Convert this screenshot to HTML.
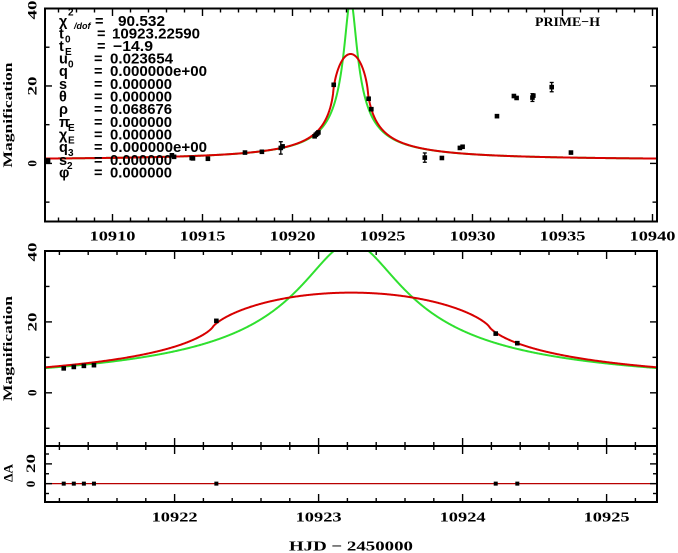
<!DOCTYPE html>
<html>
<head>
<meta charset="utf-8">
<style>
  html,body{margin:0;padding:0;background:#fff;}
  svg{display:block;}
  .ax{font-family:"Liberation Serif","DejaVu Serif",serif;font-weight:bold;fill:#000;}
  .lg{font-family:"Liberation Sans","DejaVu Sans",sans-serif;font-weight:bold;fill:#000;}
</style>
</head>
<body>
<svg id="s" xmlns="http://www.w3.org/2000/svg" width="678" height="553" viewBox="0 0 678 553">
  <rect x="0" y="0" width="678" height="553" fill="#fff"/>
  <defs>
    <clipPath id="c1"><rect x="45" y="8.5" width="612" height="213"/></clipPath>
    <clipPath id="c2"><rect x="45" y="251" width="612" height="195"/></clipPath>
    <clipPath id="c3"><rect x="45" y="446" width="612" height="56"/></clipPath>
  </defs>
  <g id="curves"></g>
  <g id="ticks" stroke="#000" stroke-width="1.4"></g>
  <g id="pts"></g>
  <!-- frames -->
  <g fill="none" stroke="#000" stroke-width="2">
    <rect x="45" y="8.5" width="612" height="213"/>
    <rect x="45" y="251" width="612" height="195"/>
    <rect x="45" y="446" width="612" height="56"/>
  </g>

  <!-- top x tick labels -->
  <g class="ax" font-size="14" text-anchor="middle">
    <text x="112.5" y="240.5" textLength="46" lengthAdjust="spacingAndGlyphs">10910</text>
    <text x="202.5" y="240.5" textLength="46" lengthAdjust="spacingAndGlyphs">10915</text>
    <text x="292.5" y="240.5" textLength="46" lengthAdjust="spacingAndGlyphs">10920</text>
    <text x="382.5" y="240.5" textLength="46" lengthAdjust="spacingAndGlyphs">10925</text>
    <text x="472.5" y="240.5" textLength="46" lengthAdjust="spacingAndGlyphs">10930</text>
    <text x="562.5" y="240.5" textLength="46" lengthAdjust="spacingAndGlyphs">10935</text>
    <text x="652.5" y="240.5" textLength="46" lengthAdjust="spacingAndGlyphs">10940</text>
    <!-- bottom x tick labels -->
    <text x="174.6" y="521.5" textLength="46" lengthAdjust="spacingAndGlyphs">10922</text>
    <text x="318.6" y="521.5" textLength="46" lengthAdjust="spacingAndGlyphs">10923</text>
    <text x="462.6" y="521.5" textLength="46" lengthAdjust="spacingAndGlyphs">10924</text>
    <text x="606.6" y="521.5" textLength="46" lengthAdjust="spacingAndGlyphs">10925</text>
    <text x="351" y="550.5" textLength="124" lengthAdjust="spacingAndGlyphs">HJD − 2450000</text>
  </g>

  <!-- rotated y labels -->
  <g class="ax" font-size="13" text-anchor="middle">
    <text transform="translate(36.5,10) rotate(-90)" textLength="19" lengthAdjust="spacingAndGlyphs">40</text>
    <text transform="translate(36.5,86) rotate(-90)" textLength="19" lengthAdjust="spacingAndGlyphs">20</text>
    <text transform="translate(36.5,163.4) rotate(-90)">0</text>
    <text transform="translate(12,115) rotate(-90)" textLength="105" lengthAdjust="spacingAndGlyphs">Magnification</text>

    <text transform="translate(36.5,252) rotate(-90)" textLength="19" lengthAdjust="spacingAndGlyphs">40</text>
    <text transform="translate(36.5,322) rotate(-90)" textLength="19" lengthAdjust="spacingAndGlyphs">20</text>
    <text transform="translate(36.5,392.8) rotate(-90)">0</text>
    <text transform="translate(12,348.5) rotate(-90)" textLength="105" lengthAdjust="spacingAndGlyphs">Magnification</text>

    <text transform="translate(35,484) rotate(-90)">0</text>
    <text transform="translate(35,463.5) rotate(-90)" textLength="19" lengthAdjust="spacingAndGlyphs">20</text>
    <text transform="translate(12.5,473) rotate(-90)" textLength="18" lengthAdjust="spacingAndGlyphs">ΔA</text>
  </g>

  <!-- PRIME-H -->
  <text class="ax" x="535" y="26" font-size="13" textLength="65" lengthAdjust="spacingAndGlyphs">PRIME−H</text>

  <!-- legend -->
  <g class="lg" font-size="14.5">
    <text x="59" y="26">χ</text><text x="68" y="15.5" font-size="10">2</text><text x="74" y="29" font-size="9" font-style="italic">/dof</text><text x="95" y="26">=</text><text x="118" y="26" textLength="47" lengthAdjust="spacingAndGlyphs">90.532</text>

    <text x="59" y="38.5">t</text><text x="65" y="42.5" font-size="10">0</text><text x="97" y="38.5">=</text><text x="112" y="38.5" textLength="88" lengthAdjust="spacingAndGlyphs">10923.22590</text>

    <text x="59" y="51">t</text><text x="65" y="55" font-size="10">E</text><text x="97" y="51">=</text><text x="113" y="51" textLength="40" lengthAdjust="spacingAndGlyphs">−14.9</text>

    <text x="59" y="63.5">u</text><text x="68" y="67.5" font-size="10">0</text><text x="94" y="63.5">=</text><text x="110" y="63.5" textLength="63" lengthAdjust="spacingAndGlyphs">0.023654</text>

    <text x="59" y="76">q</text><text x="94" y="76">=</text><text x="110" y="76" textLength="97" lengthAdjust="spacingAndGlyphs">0.000000e+00</text>

    <text x="59" y="89">s</text><text x="94" y="89">=</text><text x="110" y="89" textLength="62" lengthAdjust="spacingAndGlyphs">0.000000</text>

    <text x="59" y="101.5">θ</text><text x="94" y="101.5">=</text><text x="110" y="101.5" textLength="62" lengthAdjust="spacingAndGlyphs">0.000000</text>

    <text x="59" y="114">ρ</text><text x="94" y="114">=</text><text x="110" y="114" textLength="62" lengthAdjust="spacingAndGlyphs">0.068676</text>

    <text x="59" y="127">π</text><text x="68" y="131" font-size="10">E</text><text x="94" y="127">=</text><text x="110" y="127" textLength="62" lengthAdjust="spacingAndGlyphs">0.000000</text>

    <text x="59" y="139.5">χ</text><text x="68" y="143.5" font-size="10">E</text><text x="94" y="139.5">=</text><text x="110" y="139.5" textLength="62" lengthAdjust="spacingAndGlyphs">0.000000</text>

    <text x="59" y="152">q</text><text x="68" y="156" font-size="10">3</text><text x="94" y="152">=</text><text x="110" y="152" textLength="97" lengthAdjust="spacingAndGlyphs">0.000000e+00</text>

    <text x="59" y="165">s</text><text x="67" y="169" font-size="10">2</text><text x="94" y="165">=</text><text x="110" y="165" textLength="62" lengthAdjust="spacingAndGlyphs">0.000000</text>

    <text x="59" y="177.5">φ</text><text x="94" y="177.5">=</text><text x="110" y="177.5" textLength="62" lengthAdjust="spacingAndGlyphs">0.000000</text>
  </g>
</svg>
<script>
(function(){
  var NS="http://www.w3.org/2000/svg";
  function el(tag,attrs,parent){var e=document.createElementNS(NS,tag);for(var k in attrs)e.setAttribute(k,attrs[k]);parent.appendChild(e);return e;}
  var P1={x0:45,x1:657,y0:8.5,y1:221.5,t0:10906.25,t1:10940.25,a0:-15,a1:40};
  var P2={x0:45,x1:657,y0:251,y1:446,t0:10921.1,t1:10925.35,a0:-15,a1:40};
  var P3={x0:45,x1:657,y0:446,y1:502,t0:10921.1,t1:10925.35,a0:-18.6,a1:38.1};
  function X(P,t){return P.x0+(t-P.t0)/(P.t1-P.t0)*(P.x1-P.x0);}
  function Y(P,a){return P.y0+(P.a1-a)/(P.a1-P.a0)*(P.y1-P.y0);}

  var T0=10923.2259, TE=14.9, U0=0.023654, RHO=0.068676;
  function Aps(u){return (u*u+2)/(u*Math.sqrt(u*u+4));}
  function Afs(u,rho){
    var N=500,s=0,r0=Math.max(0,u-rho),r1=u+rho,h=(r1-r0)/N;
    for(var i=0;i<N;i++){
      var r=r0+(i+0.5)*h,th;
      var c=(r*r+u*u-rho*rho)/(2*r*u);
      if(c<=-1)th=Math.PI;else if(c>=1)th=0;else th=Math.acos(c);
      s+=(r*r+2)/Math.sqrt(r*r+4)*2*th*h;
    }
    return s/(Math.PI*rho*rho);
  }
  function uOf(t){var tau=(t-T0)/TE;return Math.sqrt(U0*U0+tau*tau);}

  var curves=document.getElementById('curves');
  function drawCurve(P,clip,fn,color,n){
    var d="";
    for(var i=0;i<=n;i++){
      var t=P.t0+(P.t1-P.t0)*i/n;
      var a=fn(uOf(t));
      var y=Y(P,a); if(y<P.y0-30)y=P.y0-30;
      d+=(i?"L":"M")+X(P,t).toFixed(2)+","+y.toFixed(2);
    }
    el('path',{d:d,fill:"none",stroke:color,"stroke-width":"2","clip-path":"url(#"+clip+")","stroke-linejoin":"round"},curves);
  }
  var GREEN="#2fe02f", RED="#d80000";
  drawCurve(P1,"c1",Aps,GREEN,3000);
  drawCurve(P1,"c1",function(u){return Afs(u,RHO);},RED,1600);
  drawCurve(P2,"c2",Aps,GREEN,1200);
  drawCurve(P2,"c2",function(u){return Afs(u,RHO);},RED,800);
  el('line',{x1:45,x2:657,y1:Y(P3,0),y2:Y(P3,0),stroke:"#b80000","stroke-width":"1.2"},curves);

  var tk=document.getElementById('ticks');
  function line(x1,y1,x2,y2){el('line',{x1:x1,y1:y1,x2:x2,y2:y2},tk);}
  function xticks(P,step,majorEvery,lmin,lmaj){
    var start=Math.ceil(P.t0/step-1e-9);
    for(var k=start;k*step<=P.t1+1e-9;k++){
      var t=k*step,x=X(P,t);
      var maj=Math.abs(Math.round(t/majorEvery)*majorEvery-t)<1e-6;
      var L=maj?lmaj:lmin;
      line(x,P.y1,x,P.y1-L);
      line(x,P.y0,x,P.y0+L);
    }
  }
  function yticks(P,step,majorEvery,lmin,lmaj){
    var start=Math.ceil(P.a0/step-1e-9);
    for(var k=start;k*step<=P.a1+1e-9;k++){
      var a=k*step,y=Y(P,a);
      var maj=Math.abs(Math.round(a/majorEvery)*majorEvery-a)<1e-6;
      var L=maj?lmaj:lmin;
      line(P.x0,y,P.x0+L,y);
      line(P.x1,y,P.x1-L,y);
    }
  }
  xticks(P1,1,5,4,7.5); yticks(P1,10,20,4.5,7);
  xticks(P2,0.2,1,4,8); yticks(P2,10,20,4.5,7);
  xticks(P3,0.2,1,4,8); yticks(P3,10,20,4,7);

  var pts=document.getElementById('pts');
  function point(P,t,a,e){
    var x=X(P,t),y=Y(P,a);
    if(e>0){
      var ya=Y(P,a+e),yb=Y(P,a-e);
      el('line',{x1:x,x2:x,y1:ya,y2:yb,stroke:"#000","stroke-width":"1.3"},pts);
      el('line',{x1:x-2,x2:x+2,y1:ya,y2:ya,stroke:"#000","stroke-width":"1.3"},pts);
      el('line',{x1:x-2,x2:x+2,y1:yb,y2:yb,stroke:"#000","stroke-width":"1.3"},pts);
    }
    el('rect',{x:x-2.3,y:y-2.3,width:4.6,height:4.6,fill:"#000"},pts);
  }
  var top=[
    [10906.42,0.6,0.6],
    [10913.3,2.1,0],[10913.42,1.7,0],
    [10914.4,1.4,0],[10914.47,1.3,0],
    [10915.3,1.2,0],
    [10917.36,2.8,0],
    [10918.3,3.0,0],
    [10919.35,4.0,1.6],[10919.45,4.4,0],
    [10921.23,7.0,0],[10921.3,7.4,0],[10921.37,7.7,0],[10921.44,8.0,0],
    [10922.29,20.3,0],
    [10924.23,16.7,0],[10924.38,14.0,0],
    [10927.35,1.5,1.2],
    [10928.3,1.4,0],
    [10929.3,4.0,0],[10929.45,4.3,0],
    [10931.36,12.2,0],
    [10932.3,17.4,0],[10932.45,16.9,0],
    [10933.33,17.0,1.0],[10933.38,17.5,0],
    [10934.4,19.7,1.2],
    [10935.47,2.8,0]
  ];
  top.forEach(function(p){point(P1,p[0],p[1],p[2]);});
  var mid=[[10921.23,6.9,0],[10921.30,7.3,0],[10921.37,7.6,0],[10921.44,7.8,0],[10922.29,20.3,0],[10924.23,16.7,0],[10924.38,14.0,0]];
  mid.forEach(function(p){point(P2,p[0],p[1],p[2]);});
  mid.forEach(function(p){
    var x=X(P3,p[0]),y=Y(P3,0);
    el('rect',{x:x-2,y:y-2,width:4,height:4,fill:"#000"},pts);
  });
})();
</script>
</body>
</html>
